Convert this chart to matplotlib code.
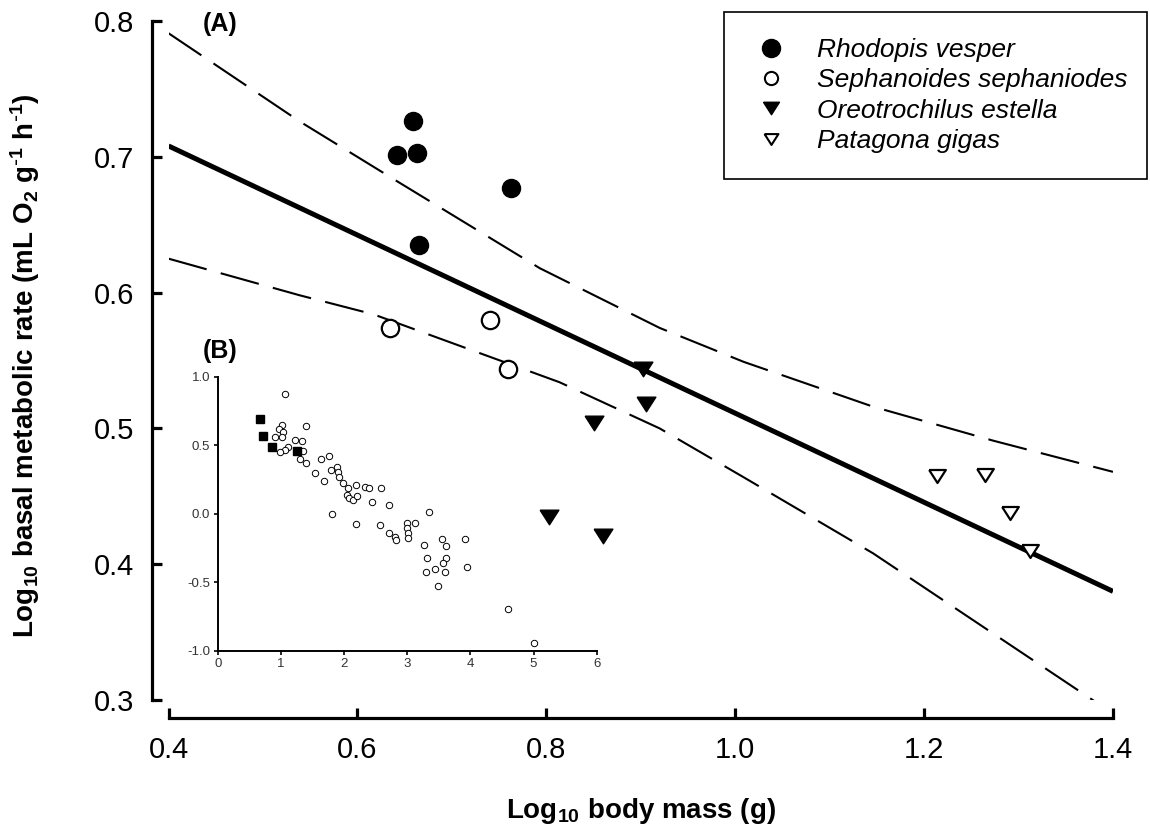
import matplotlib
matplotlib.use('Agg')
import matplotlib.pyplot as plt
from matplotlib import font_manager as fm
from matplotlib.lines import Line2D


def has_font(name):
    try:
        fm.findfont(fm.FontProperties(family=name), fallback_to_default=False)
        return True
    except Exception:
        return False


NARROW = 'Liberation Sans Narrow' if has_font('Liberation Sans Narrow') else 'Liberation Sans'
NARROW_OK = NARROW == 'Liberation Sans Narrow'

plt.rcParams['font.family'] = ['Liberation Sans', 'DejaVu Sans']
plt.rcParams['mathtext.default'] = 'regular'

# ---------------- data (panel A) ----------------
species = ['Rhodopis vesper', 'Sephanoides sephaniodes',
           'Oreotrochilus estella', 'Patagona gigas']
rv_mass = [0.642, 0.659, 0.663, 0.763, 0.665]
rv_bmr = [0.701, 0.726, 0.703, 0.677, 0.635]
ss_mass = [0.634, 0.740, 0.759]
ss_bmr = [0.574, 0.580, 0.544]
oe_mass = [0.902, 0.906, 0.850, 0.803, 0.860]
oe_bmr = [0.544, 0.518, 0.504, 0.435, 0.421]
pg_mass = [1.214, 1.264, 1.291, 1.312]
pg_bmr = [0.465, 0.466, 0.438, 0.410]

fit_x = [0.40, 1.40]
fit_y = [0.708, 0.380]
upper_x = [0.40, 0.539, 0.642, 0.793, 0.920, 1.009, 1.146, 1.273, 1.40]
upper_y = [0.791, 0.726, 0.682, 0.618, 0.574, 0.549, 0.516, 0.491, 0.468]
lower_x = [0.40, 0.539, 0.617, 0.814, 0.920, 1.009, 1.146, 1.273, 1.40]
lower_y = [0.625, 0.598, 0.584, 0.534, 0.500, 0.464, 0.408, 0.349, 0.290]

x_ticks = [0.4, 0.6, 0.8, 1.0, 1.2, 1.4]
x_ticklabels = ['0.4', '0.6', '0.8', '1.0', '1.2', '1.4']
y_ticks = [0.3, 0.4, 0.5, 0.6, 0.7, 0.8]
y_ticklabels = ['0.3', '0.4', '0.5', '0.6', '0.7', '0.8']

# ---------------- data (panel B inset) ----------------
inset_mass = [1.071, 1.018, 0.966, 1.040, 0.913, 1.018, 1.404, 1.224, 1.340, 1.119,
              1.066, 0.992, 1.346, 1.303, 1.404, 1.636, 1.757, 1.536, 1.799, 1.678,
              1.889, 1.910, 1.926, 1.989, 2.069, 2.185, 2.042, 2.084, 2.137, 2.206,
              2.332, 2.401, 2.586, 2.443, 2.718, 1.810, 2.185, 2.570, 2.718, 2.813,
              2.823, 2.997, 3.124, 2.992, 3.008, 3.013, 3.346, 3.272, 3.309, 3.303,
              3.435, 3.483, 3.546, 3.615, 3.615, 3.573, 3.594, 3.921, 3.953, 4.596,
              5.008]
inset_bmr = [0.873, 0.645, 0.616, 0.594, 0.557, 0.562, 0.642, 0.538, 0.533, 0.489,
             0.465, 0.450, 0.455, 0.397, 0.372, 0.399, 0.418, 0.294, 0.319, 0.241,
             0.338, 0.307, 0.270, 0.221, 0.185, 0.209, 0.136, 0.112, 0.100, 0.131,
             0.192, 0.187, 0.185, 0.085, 0.061, -0.002, -0.073, -0.080, -0.144, -0.173,
             -0.192, -0.066, -0.071, -0.107, -0.144, -0.175, 0.012, -0.226, -0.321, -0.426,
             -0.401, -0.530, -0.182, -0.236, -0.324, -0.363, -0.423, -0.185, -0.389, -0.698,
             -0.944]
sq_mass = [0.675, 0.723, 0.865, 1.256]
sq_bmr = [0.689, 0.564, 0.487, 0.457]
inset_xticks = [0, 1, 2, 3, 4, 5, 6]
inset_xticklabels = ['0', '1', '2', '3', '4', '5', '6']
inset_yticks = [-1.0, -0.5, 0.0, 0.5, 1.0]
inset_yticklabels = ['-1.0', '-0.5', '0.0', '0.5', '1.0']

# ---------------- figure ----------------
W, H = 1150, 826
fig = plt.figure(figsize=(W / 100, H / 100), dpi=100)
ax = fig.add_axes([168.5 / W, 1 - 700 / H, 944.5 / W, 679 / H])
ax.set_xlim(0.4, 1.4)
ax.set_ylim(0.3, 0.8)
for s in ['top', 'right']:
    ax.spines[s].set_visible(False)
ax.spines['left'].set_position(('outward', 11.9))
ax.spines['bottom'].set_position(('outward', 13))
for s in ['left', 'bottom']:
    ax.spines[s].set_linewidth(2.3)
ax.set_xticks(x_ticks)
ax.set_xticklabels(x_ticklabels, fontfamily=NARROW, fontsize=25 if NARROW_OK else 21)
ax.set_yticks(y_ticks)
ax.set_yticklabels(y_ticklabels, fontsize=21)
ax.tick_params(axis='both', direction='in', length=7.5, width=2.3)
ax.tick_params(axis='x', pad=13)
ax.tick_params(axis='y', pad=13)

# regression and confidence lines
ax.plot(fit_x, fit_y, color='black', lw=3.6, solid_capstyle='butt', zorder=2)
ax.plot(upper_x, upper_y, color='black', lw=1.5, dashes=(19, 7), zorder=2)
ax.plot(lower_x, lower_y, color='black', lw=1.5, dashes=(19, 7), zorder=2)

tri = [(-1, 0.78), (1, 0.78), (0, -0.78), (-1, 0.78)]
ax.plot(rv_mass, rv_bmr, ls='none', marker='o', ms=13, mfc='black', mec='black', zorder=3)
ax.plot(ss_mass, ss_bmr, ls='none', marker='o', ms=12.5, mfc='white', mec='black', mew=1.6, zorder=3)
ax.plot(oe_mass, oe_bmr, ls='none', marker=tri, ms=13.5, mfc='black', mec='black', zorder=3)
ax.plot(pg_mass, pg_bmr, ls='none', marker=tri, ms=12, mfc='white', mec='black', mew=1.6, zorder=3)

ax.text(0.0545, 0.9956, '(A)', transform=ax.transAxes, ha='center', va='center',
        fontsize=18, fontweight='bold')
ax.text(0.0545, 0.514, '(B)', transform=ax.transAxes, ha='center', va='center',
        fontsize=18, fontweight='bold')

lab_size = 24 if NARROW_OK else 20
ax.set_xlabel('Log$_{10}$ body mass (g)', fontfamily=NARROW, fontsize=lab_size, fontweight='bold')
ax.xaxis.set_label_coords(0.5, -0.163)
ax.xaxis.label.set_va('center')
ax.set_ylabel(r'Log$_{10}$ basal metabolic rate (mL O$_2$ g$^{\text{-}1}$ h$^{\text{-}1}$)',
              fontfamily=NARROW, fontsize=lab_size, fontweight='bold')
ax.yaxis.set_label_coords((25 - 168.5) / 944.5, (700 - 366) / 679)
ax.yaxis.label.set_va('center')

# legend
handles = [
    Line2D([], [], ls='none', marker='o', ms=13, mfc='black', mec='black'),
    Line2D([], [], ls='none', marker='o', ms=9.5, mfc='white', mec='black', mew=1.5),
    Line2D([], [], ls='none', marker=tri, ms=11.5, mfc='black', mec='black'),
    Line2D([], [], ls='none', marker=tri, ms=10, mfc='white', mec='black', mew=1.5),
]
leg = ax.legend(handles, species, loc='upper left',
                bbox_to_anchor=(724 / W, 1 - 11.6 / H, 422.5 / W, 0),
                bbox_transform=fig.transFigure, mode='expand', borderaxespad=0,
                prop={'style': 'italic', 'size': 19}, frameon=True, fancybox=False,
                framealpha=1, edgecolor='black', borderpad=1.0, labelspacing=0.24,
                handlelength=1.59, handletextpad=0.94)
leg.get_frame().set_linewidth(1.2)

# inset (B)
iax = fig.add_axes([217.7 / W, 1 - 650.7 / H, 379 / W, 274 / H])
iax.patch.set_visible(False)
iax.set_xlim(0, 6)
iax.set_ylim(-1, 1)
for s in ['top', 'right']:
    iax.spines[s].set_visible(False)
for s in ['left', 'bottom']:
    iax.spines[s].set_linewidth(1.4)
iax.set_xticks(inset_xticks)
iax.set_xticklabels(inset_xticklabels)
iax.set_yticks(inset_yticks)
iax.set_yticklabels(inset_yticklabels)
iax.tick_params(axis='both', direction='out', length=3, width=1.2, labelsize=9.5,
                labelcolor='#333333', pad=2.5)
iax.plot(inset_mass, inset_bmr, ls='none', marker='o', ms=4.6, mfc='white', mec='black', mew=0.7)
iax.plot(sq_mass, sq_bmr, ls='none', marker='s', ms=5.3, mfc='black', mec='black')

fig.savefig('out.png', dpi=100)
